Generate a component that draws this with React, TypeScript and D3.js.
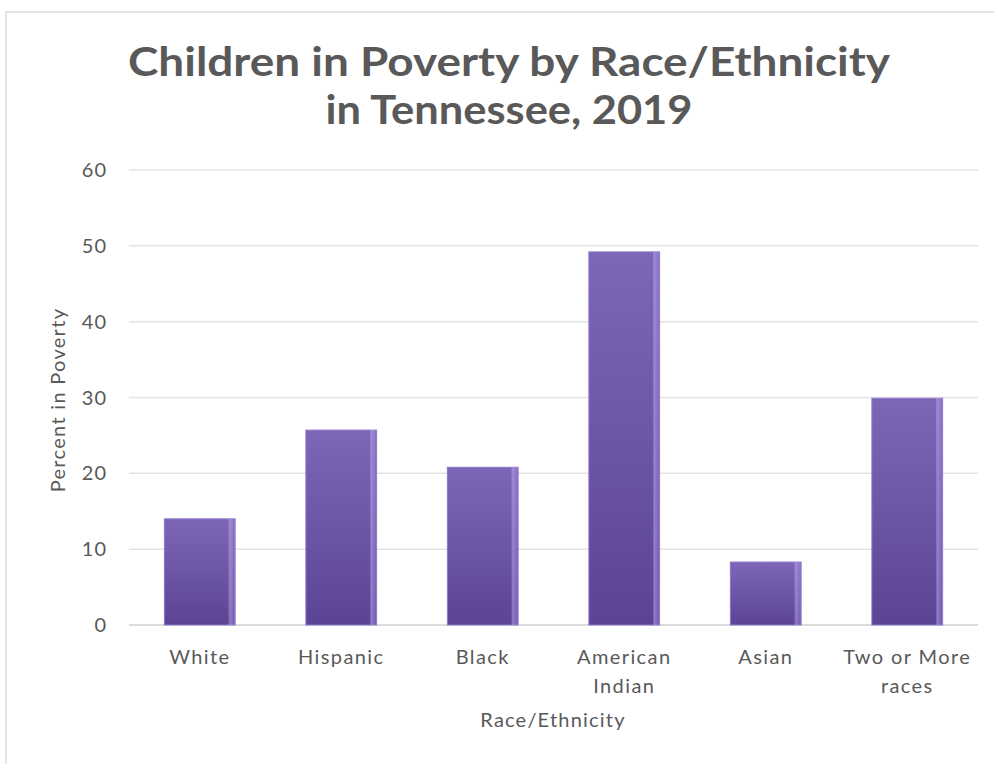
import React from "react";
import * as d3 from "d3";

const categories = ["White", "Hispanic", "Black", "American Indian", "Asian", "Two or More races"];
const categoryLines = [["White"], ["Hispanic"], ["Black"], ["American", "Indian"], ["Asian"], ["Two or More", "races"]];
const values = [14.0, 25.7, 20.8, 49.2, 8.3, 29.9];
const yTicks = [0, 10, 20, 30, 40, 50, 60];
const titleLines = ["Children in Poverty by Race/Ethnicity", "in Tennessee, 2019"];

export default function App() {
  const W = 994, H = 764;
  const left = 129, right = 978, top = 170, bottom = 625;
  const x = d3.scaleBand<string>().domain(categories).range([left, right]).paddingInner(0.5).paddingOuter(0.25);
  const y = d3.scaleLinear().domain([0, 60]).range([bottom, top]);
  const font = "'Lato', 'Open Sans', sans-serif";
  const grey = "#595959";
  const titleWidths = [762, 367];
  return (
    <svg width={W} height={H} style={{ position: "absolute", left: 0, top: 0, background: "#fff" }}>
      <defs>
        <linearGradient id="barV" x1="0" y1="0" x2="0" y2="1">
          <stop offset="0" stopColor="#7d66b8" />
          <stop offset="1" stopColor="#5c4396" />
        </linearGradient>
        <linearGradient id="barH" x1="0" y1="0" x2="1" y2="0">
          <stop offset="0" stopColor="#ffffff" stopOpacity="0" />
          <stop offset="0.9" stopColor="#ffffff" stopOpacity="0" />
          <stop offset="0.93" stopColor="#b9a6ee" stopOpacity="0.55" />
          <stop offset="1" stopColor="#9a84d6" stopOpacity="0.35" />
        </linearGradient>
      </defs>
      <rect x={0} y={0} width={W} height={H} fill="#fff" />
      <path d={`M6,${H} V12 H${W}`} fill="none" stroke="#dcdcdc" strokeWidth={1.5} />
      {titleLines.map((t, i) => (
        <text key={t} x={509} y={76 + i * 48} textAnchor="middle" fontFamily={font} fontWeight={700}
          fontSize={41} fill={grey} textLength={titleWidths[i]} lengthAdjust="spacingAndGlyphs">{t}</text>
      ))}
      {yTicks.map(t => (
        <g key={t}>
          <line x1={left} x2={right} y1={y(t)} y2={y(t)} stroke={t === 0 ? "#d0d0d0" : "#e3e3e3"} strokeWidth={1.5} />
          <text x={107} y={y(t)} dy="0.35em" textAnchor="end" fontFamily={font} fontSize={20} letterSpacing={1}
            fill={grey}>{t}</text>
        </g>
      ))}
      {categories.map((c, i) => {
        const bx = x(c)!, bw = x.bandwidth(), by = y(values[i]), bh = y(0) - y(values[i]);
        return (
          <g key={c}>
            <rect x={bx} y={by} width={bw} height={bh} fill="url(#barV)" stroke="#8c78c8" strokeWidth={1} />
            <rect x={bx} y={by} width={bw} height={bh} fill="url(#barH)" />
          </g>
        );
      })}
      {categoryLines.map((lines, i) => (
        <text key={i} x={x(categories[i])! + x.bandwidth() / 2} y={664} textAnchor="middle" fontFamily={font}
          fontSize={20} letterSpacing={1.4} fill={grey}>
          {lines.map((l, j) => <tspan key={j} x={x(categories[i])! + x.bandwidth() / 2} dy={j === 0 ? 0 : 29}>{l}</tspan>)}
        </text>
      ))}
      <text x={553} y={727} textAnchor="middle" fontFamily={font} fontSize={20} letterSpacing={1.2} fill={grey}>Race/Ethnicity</text>
      <text transform={`translate(65,${400}) rotate(-90)`} textAnchor="middle" fontFamily={font} fontSize={20}
        letterSpacing={1.3} fill={grey}>Percent in Poverty</text>
    </svg>
  );
}
